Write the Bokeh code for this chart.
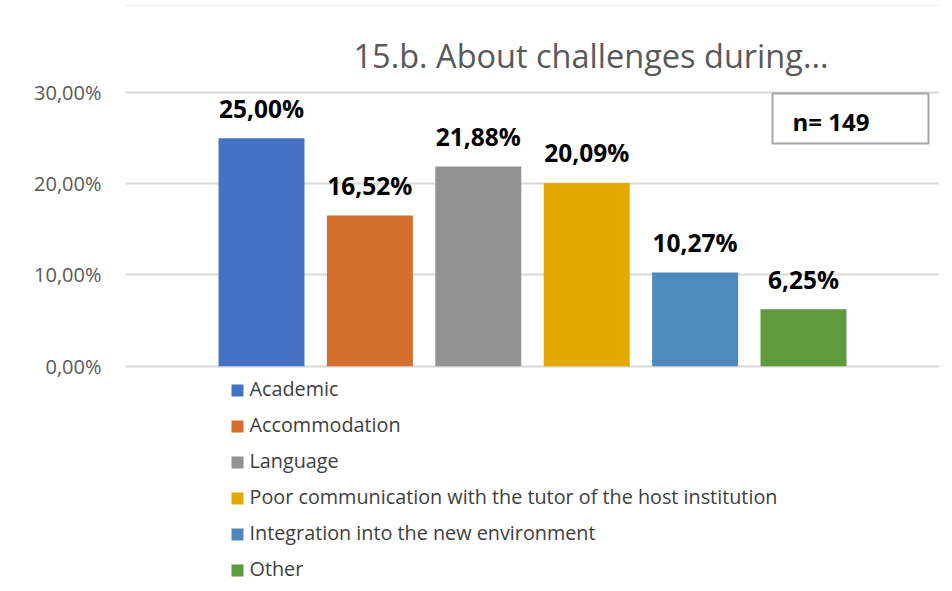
from bokeh.plotting import figure
from bokeh.models import ColumnDataSource, Range1d, FixedTicker, BoxAnnotation
from bokeh.core.properties import value
from bokeh.embed import file_html
from bokeh.resources import INLINE

# ---------------- data ----------------
categories = [
    "Academic",
    "Accommodation",
    "Language",
    "Poor communication with the tutor of the host institution",
    "Integration into the new environment",
    "Other",
]
values = [25.00, 16.52, 21.88, 20.09, 10.27, 6.25]
value_labels = ["25,00%", "16,52%", "21,88%", "20,09%", "10,27%", "6,25%"]
colors = ["#4472C4", "#D36E2C", "#929292", "#E2AA00", "#4E8ABE", "#5F9A3D"]
y_ticks = [0, 10, 20, 30]
y_tick_labels = ["0,00%", "10,00%", "20,00%", "30,00%"]
title_text = "15.b. About challenges during..."
n_text = "n= 149"

# ---------------- layout ----------------
W, H = 944, 583
FL, FR = 125, 939          # frame left / right (figure px)
ZERO_Y = 365.7             # figure px of the 0 % line
PX_PER_UNIT_Y = 9.122
PX_PER_CAT = 108.4
X0 = -1.2546
x_end = X0 + (FR - FL) / PX_PER_CAT
y_end = ZERO_Y / PX_PER_UNIT_Y
y_start = -(H - ZERO_Y) / PX_PER_UNIT_Y


def dx(px):
    return X0 + (px - FL) / PX_PER_CAT


def dy(px):
    return (ZERO_Y - px) / PX_PER_UNIT_Y


FONT = value("Open Sans")

p = figure(
    width=W, height=H,
    x_range=Range1d(X0, x_end), y_range=Range1d(y_start, y_end),
    output_backend="svg", toolbar_location=None,
    x_axis_location=None,
    min_border_left=FL, min_border_right=max(W - FR, 0),
    min_border_top=0, min_border_bottom=0,
    outline_line_color=None,
)
p.background_fill_color = "white"
p.border_fill_color = "white"

# outer chart border (top edge visible in the reference)
p.add_layout(BoxAnnotation(left=dx(14), right=dx(2000), top=dy(5), bottom=dy(2000),
                           fill_color=None, line_color="#d9d9d9", line_width=2))

# y axis
p.yaxis.ticker = FixedTicker(ticks=y_ticks)
p.yaxis.major_label_overrides = {t: l for t, l in zip(y_ticks, y_tick_labels)}
p.yaxis.axis_line_color = None
p.yaxis.major_tick_line_color = None
p.yaxis.minor_tick_line_color = None
p.yaxis.major_tick_out = 0
p.yaxis.major_tick_in = 0
p.yaxis.major_label_standoff = 24
p.yaxis.major_label_text_font = "Open Sans"
p.yaxis.major_label_text_font_size = "20px"
p.yaxis.major_label_text_color = "#595959"

p.ygrid.grid_line_color = "#d9d9d9"
p.ygrid.grid_line_width = 2
p.xgrid.grid_line_color = None

# bars
xs = list(range(len(categories)))
src = ColumnDataSource(dict(x=xs, value=values, label=value_labels, color=colors, cat=categories))
p.vbar(x="x", top="value", width=0.793, fill_color="color", line_color=None, source=src)

# value labels
p.text(x="x", y="value", text="label", source=src,
       text_align="center", text_baseline="alphabetic", y_offset=-30,
       text_font=FONT, text_font_style="bold", text_font_size=value("24.5px"),
       text_color="black")

# title
p.text(x=[dx(590.5)], y=[dy(55)], text=[title_text],
       text_align="center", text_baseline="alphabetic",
       text_font=FONT, text_font_size=value("32.5px"), text_color="#595959")

# n box
p.quad(left=[dx(772)], right=[dx(928)], top=[dy(93)], bottom=[dy(143)],
       fill_color="white", line_color="#a6a6a6", line_width=2)
p.text(x=[dx(792)], y=[dy(121)], text=[n_text],
       text_align="left", text_baseline="alphabetic",
       text_font=FONT, text_font_style="bold", text_font_size=value("24px"),
       text_color="black")

# legend (manual)
leg_y = [dy(390 + 36 * i) for i in range(len(categories))]
leg_src = ColumnDataSource(dict(
    sx=[dx(237)] * len(categories), tx=[dx(249)] * len(categories),
    y=leg_y, color=colors, cat=categories))
p.scatter(x="sx", y="y", marker="square", size=12, fill_color="color",
          line_color=None, source=leg_src)
p.text(x="tx", y="y", text="cat", source=leg_src,
       text_align="left", text_baseline="alphabetic", y_offset=-2,
       text_font=FONT, text_font_size=value("19.8px"), text_color="#404040")

open("out.html", "w").write(file_html(p, INLINE))
